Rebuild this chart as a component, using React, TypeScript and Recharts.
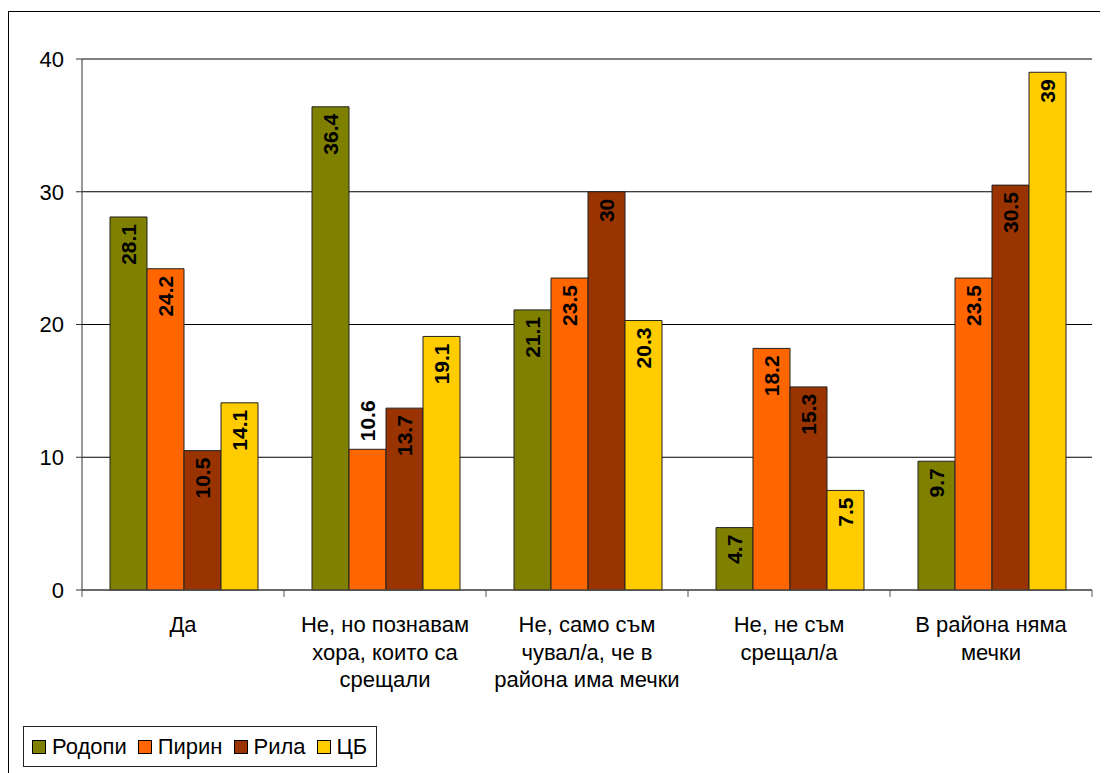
import { BarChart, Bar, XAxis, YAxis, CartesianGrid, ReferenceLine, LabelList } from "recharts";

const categories = [
  "Да",
  "Не, но познавам хора, които са срещали",
  "Не, само съм чувал/а, че в района има мечки",
  "Не, не съм срещал/а",
  "В района няма мечки",
];

// wrapped lines for the category axis
const categoryLines = [
  ["Да"],
  ["Не, но познавам", "хора, които са", "срещали"],
  ["Не, само съм", "чувал/а, че в", "района има мечки"],
  ["Не, не съм", "срещал/а"],
  ["В района няма", "мечки"],
];

const rodopi = [28.1, 36.4, 21.1, 4.7, 9.7];
const pirin = [24.2, 10.6, 23.5, 18.2, 23.5];
const rila = [10.5, 13.7, 30, 15.3, 30.5];
const cb = [14.1, 19.1, 20.3, 7.5, 39];

const yTicks = [0, 10, 20, 30, 40];

const series = [
  { key: "rodopi", name: "Родопи", color: "#808000", values: rodopi },
  { key: "pirin", name: "Пирин", color: "#FF6600", values: pirin },
  { key: "rila", name: "Рила", color: "#993300", values: rila },
  { key: "cb", name: "ЦБ", color: "#FFCC00", values: cb },
];

// labels that sit above their bar rather than inside the top
const labelsAbove = [{ series: "pirin", category: 1 }];

const data = categories.map((category, i) => {
  const row: Record<string, string | number> = { category };
  series.forEach((s) => {
    row[s.key] = s.values[i];
  });
  return row;
});

const FONT = "'Liberation Sans', Arial, sans-serif";
const CHART_W = 1098;
const CHART_H = 760;
const MARGIN = { top: 47, right: 15, bottom: 0, left: 0 };
const Y_AXIS_W = 73;
const BAND = (CHART_W - MARGIN.left - MARGIN.right - Y_AXIS_W) / categories.length;

const CategoryTick = (props: any) => {
  const { x, y, payload } = props;
  const idx = categories.indexOf(payload.value);
  const lines = categoryLines[idx] || [payload.value];
  const left = x - BAND / 2;
  const right = x + BAND / 2;
  return (
    <g>
      <line x1={left} y1={y} x2={left} y2={y + 7} stroke="#555" />
      {idx === categories.length - 1 && (
        <line x1={right} y1={y} x2={right} y2={y + 7} stroke="#555" />
      )}
      {lines.map((line, k) => (
        <text
          key={k}
          x={x}
          y={y + 42 + k * 27.5}
          textAnchor="middle"
          fontSize={22}
          fontFamily={FONT}
          fill="#000"
        >
          {line}
        </text>
      ))}
    </g>
  );
};

const makeLabel = (key: string) => (props: any) => {
  const { x, y, width, value, index } = props;
  const cx = x + width / 2;
  const above = labelsAbove.some((l) => l.series === key && l.category === index);
  const ty = above ? y - 8 : y + 7;
  return (
    <text
      x={cx}
      y={ty}
      transform={`rotate(-90 ${cx} ${ty})`}
      textAnchor={above ? "start" : "end"}
      dominantBaseline="central"
      fontSize={21}
      fontWeight="bold"
      fontFamily={FONT}
      fill="#000"
    >
      {value}
    </text>
  );
};

export default function App() {
  return (
    <>
      <style>{`body{overflow:hidden}`}</style>
      <div
        style={{
          position: "relative",
          marginTop: 3,
          width: 1110,
          height: 780,
          border: "1px solid #000",
          boxSizing: "border-box",
          fontFamily: FONT,
          background: "#fff",
        }}
      >
        <div style={{ position: "absolute", left: 0, top: 0 }}>
          <BarChart
            width={CHART_W}
            height={CHART_H}
            data={data}
            margin={MARGIN}
            barCategoryGap={28}
            barGap={0}
          >
            <CartesianGrid horizontal vertical={false} stroke="#000" />
            <XAxis
              dataKey="category"
              height={CHART_H - 578}
              axisLine={{ stroke: "#555" }}
              tickLine={false}
              tickSize={0}
              tickMargin={0}
              interval={0}
              tick={<CategoryTick />}
            />
            <YAxis
              width={Y_AXIS_W}
              domain={[0, 40]}
              ticks={yTicks}
              interval={0}
              axisLine={{ stroke: "#333" }}
              tickLine={{ stroke: "#333" }}
              tickSize={6}
              tickMargin={12}
              tick={{ fontSize: 22, fill: "#000", fontFamily: FONT }}
            />
            <ReferenceLine y={40} stroke="#808080" strokeWidth={2} />
            {series.map((s) => (
              <Bar
                key={s.key}
                dataKey={s.key}
                name={s.name}
                fill={s.color}
                stroke="#222"
                strokeWidth={1}
                isAnimationActive={false}
              >
                <LabelList dataKey={s.key} content={makeLabel(s.key)} />
              </Bar>
            ))}
          </BarChart>
        </div>
        <div
          style={{
            position: "absolute",
            left: 14,
            top: 714,
            height: 41,
            boxSizing: "border-box",
            border: "1px solid #222",
            display: "flex",
            alignItems: "center",
            padding: "0 9px 0 8px",
            fontSize: 22,
            color: "#000",
          }}
        >
          {series.map((s, i) => (
            <div
              key={s.key}
              style={{
                display: "flex",
                alignItems: "center",
                marginLeft: i === 0 ? 0 : 11,
              }}
            >
              <span
                style={{
                  display: "inline-block",
                  width: 14,
                  height: 14,
                  boxSizing: "border-box",
                  border: "1px solid #000",
                  background: s.color,
                  marginRight: 6,
                }}
              />
              <span>{s.name}</span>
            </div>
          ))}
        </div>
      </div>
    </>
  );
}
